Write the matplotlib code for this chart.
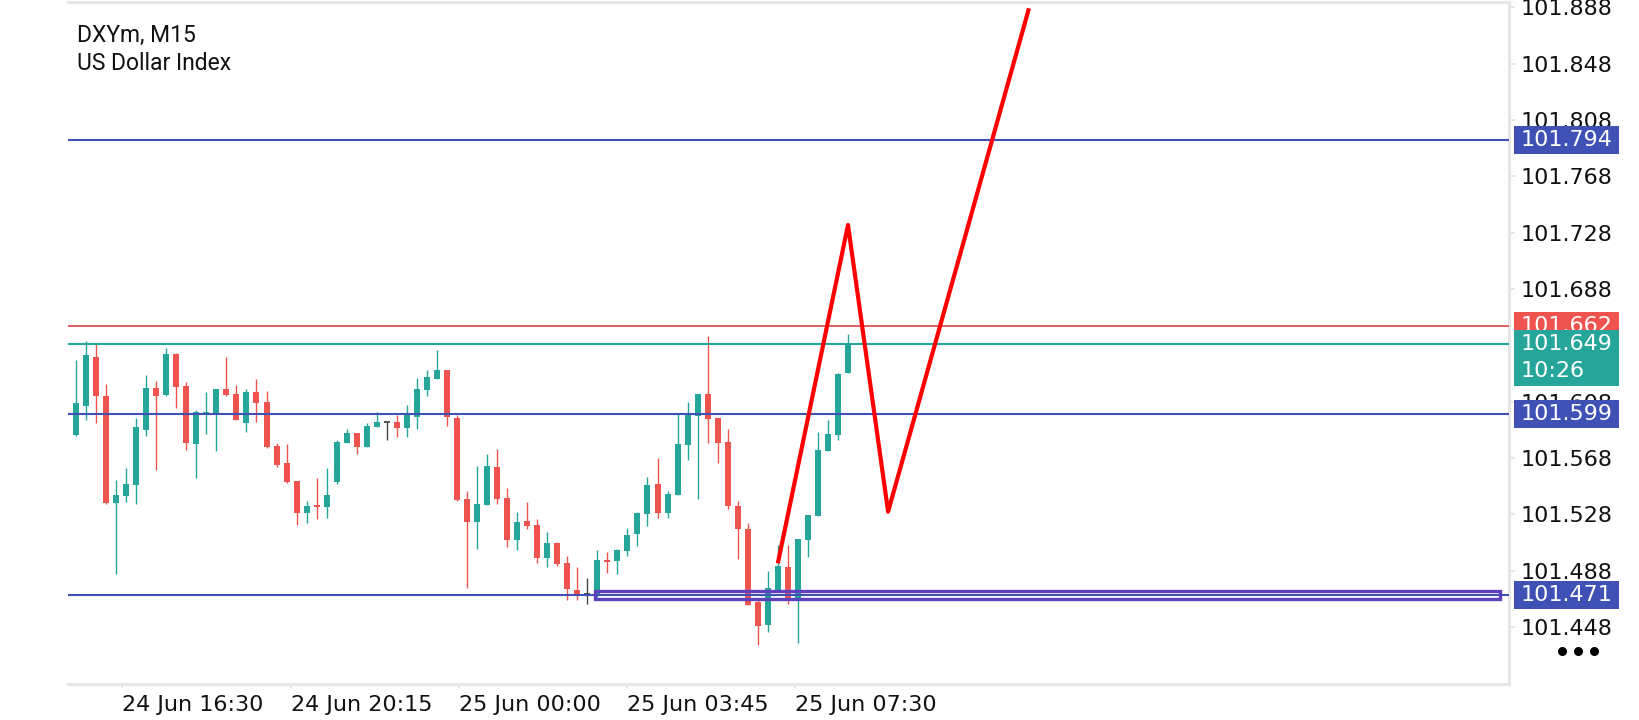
import matplotlib
matplotlib.use('Agg')
import matplotlib.pyplot as plt
from matplotlib.patches import Rectangle
from matplotlib.lines import Line2D
import matplotlib.transforms as mtransforms

# ---------------- data ----------------
opens = [101.5844, 101.6052, 101.6398, 101.6121, 101.5363, 101.5413, 101.5491, 101.5882, 101.6178, 101.6128,
         101.6419, 101.6192, 101.5782, 101.5995, 101.5995, 101.6170, 101.6135, 101.5931, 101.6149, 101.6078,
         101.5766, 101.5645, 101.5517, 101.5292, 101.5347, 101.5335, 101.5512, 101.5789, 101.5858, 101.5761,
         101.5903, 101.5934, 101.5936, 101.5896, 101.5974, 101.6166, 101.6244, 101.6305, 101.5964, 101.5392,
         101.5228, 101.5349, 101.5617, 101.5396, 101.5100, 101.5233, 101.5204, 101.4972, 101.5077, 101.4935,
         101.4743, 101.4717, 101.4717, 101.4956, 101.4951, 101.5022, 101.5143, 101.5285, 101.5496, 101.5292,
         101.5420, 101.5775, 101.5981, 101.6135, 101.5964, 101.5794, 101.5340, 101.5176, 101.4660, 101.4497,
         101.4733, 101.4906, 101.4681, 101.5100, 101.5271, 101.5733, 101.5846, 101.6286]
highs = [101.6376, 101.6511, 101.6495, 101.6206, 101.5524, 101.5609, 101.5962, 101.6270, 101.6227, 101.6462,
         101.6426, 101.6220, 101.6019, 101.6149, 101.6170, 101.6398, 101.6199, 101.6170, 101.6241, 101.6156,
         101.5787, 101.5780, 101.5517, 101.5375, 101.5538, 101.5609, 101.5808, 101.5886, 101.5858, 101.5929,
         101.6007, 101.5934, 101.5986, 101.6057, 101.6249, 101.6305, 101.6450, 101.6305, 101.5988, 101.5448,
         101.5624, 101.5709, 101.5744, 101.5467, 101.5297, 101.5368, 101.5247, 101.5155, 101.5084, 101.4984,
         101.4906, 101.4828, 101.5027, 101.5013, 101.5034, 101.5183, 101.5297, 101.5545, 101.5680, 101.5446,
         101.5995, 101.6078, 101.6135, 101.6547, 101.5964, 101.5886, 101.5375, 101.5219, 101.4672, 101.4878,
         101.5063, 101.5063, 101.5105, 101.5276, 101.5865, 101.5950, 101.6284, 101.6561]
lows = [101.5837, 101.5950, 101.5931, 101.5354, 101.4859, 101.5370, 101.5356, 101.5839, 101.5598, 101.6123,
        101.6038, 101.5740, 101.5541, 101.5853, 101.5733, 101.6123, 101.5953, 101.5867, 101.5938, 101.5749,
        101.5619, 101.5500, 101.5207, 101.5221, 101.5250, 101.5257, 101.5498, 101.5789, 101.5711, 101.5761,
        101.5903, 101.5811, 101.5832, 101.5832, 101.5889, 101.6123, 101.6244, 101.5910, 101.5375, 101.4760,
        101.5036, 101.5349, 101.5356, 101.5051, 101.5029, 101.5178, 101.4937, 101.4909, 101.4916, 101.4674,
        101.4674, 101.4646, 101.4696, 101.4866, 101.4859, 101.4987, 101.5058, 101.5200, 101.5257, 101.5257,
        101.5420, 101.5669, 101.5392, 101.5789, 101.5647, 101.5321, 101.4965, 101.4639, 101.4352, 101.4447,
        101.4733, 101.4646, 101.4364, 101.4980, 101.5271, 101.5733, 101.5811, 101.6286]
closes = [101.6071, 101.6412, 101.6123, 101.5358, 101.5418, 101.5496, 101.5901, 101.6178, 101.6123, 101.6419,
          101.6187, 101.5789, 101.6007, 101.6007, 101.6170, 101.6128, 101.5953, 101.6149, 101.6073, 101.5761,
          101.5633, 101.5512, 101.5292, 101.5340, 101.5335, 101.5418, 101.5794, 101.5858, 101.5761, 101.5908,
          101.5936, 101.5934, 101.5896, 101.5995, 101.6170, 101.6256, 101.6305, 101.5974, 101.5382, 101.5228,
          101.5354, 101.5624, 101.5392, 101.5100, 101.5226, 101.5200, 101.4972, 101.5077, 101.4930, 101.4752,
          101.4717, 101.4717, 101.4956, 101.4944, 101.5027, 101.5134, 101.5290, 101.5489, 101.5292, 101.5425,
          101.5780, 101.5995, 101.6135, 101.5960, 101.5789, 101.5342, 101.5178, 101.4639, 101.4490, 101.4757,
          101.4913, 101.4667, 101.5105, 101.5276, 101.5737, 101.5851, 101.6277, 101.6490]

time_labels = ["24 Jun 16:30", "24 Jun 20:15", "25 Jun 00:00", "25 Jun 03:45", "25 Jun 07:30"]
time_label_pos = [4.63, 21.42, 38.15, 54.95, 71.67]

price_ticks = [101.448, 101.488, 101.528, 101.568, 101.608, 101.648,
               101.688, 101.728, 101.768, 101.808, 101.848, 101.888]
price_ticks = [t for t in price_ticks if t != 101.648]

blue_levels = [101.794, 101.599, 101.471]
ask_price = 101.662
bid_price = 101.649
countdown = "10:26"

zigzag_x = [70.0, 77.0, 81.0, 95.05]
zigzag_y = [101.4932, 101.7335, 101.5299, 101.8874]

zone_x = [51.8, 142.0]
zone_y = [101.4680, 101.4732]

title_lines = ["DXYm, M15", "US Dollar Index"]

# ---------------- style ----------------
TEAL = '#26A69A'
RED = '#EF5350'
BLUE = '#3F51B5'
DOJI = '#444444'
GRID = '#E6E6E6'

W, H = 1640, 720
fig = plt.figure(figsize=(W / 100, H / 100), dpi=100)
ax_l, ax_r, ax_t, ax_b = 68, 1509, 2, 684
ax = fig.add_axes([ax_l / W, 1 - ax_b / H, (ax_r - ax_l) / W, (ax_b - ax_t) / H])

xmin, xmax = -0.80, 142.93
ymin, ymax = 101.4075, 101.8919
ax.set_xlim(xmin, xmax)
ax.set_ylim(ymin, ymax)
px_per_unit = (ax_b - ax_t) / (ymax - ymin)

# candles
body_w = 0.6
for i, (o, h, l, c) in enumerate(zip(opens, highs, lows, closes)):
    if c > o:
        col = TEAL
    elif c < o:
        col = RED
    else:
        col = DOJI
    ax.vlines(i, l, h, color=col, lw=1.0, zorder=2)
    if c != o:
        ax.bar(i, abs(c - o), bottom=min(o, c), width=body_w, color=col, lw=0, zorder=3)
    else:
        ax.hlines(o, i - body_w / 2, i + body_w / 2, color=col, lw=1.3, zorder=3)

# horizontal levels
for lv in blue_levels:
    ax.axhline(lv, color=BLUE, lw=1.5, zorder=4)
ax.axhline(ask_price, color='#E06060', lw=1.4, zorder=4)
ax.axhline(bid_price, color=TEAL, lw=1.5, zorder=4)

# zone rectangle
ax.add_patch(Rectangle((zone_x[0], zone_y[0]), zone_x[1] - zone_x[0], zone_y[1] - zone_y[0],
                       fill=False, edgecolor='#5E3FBE', lw=2.4, zorder=5))

# zigzag projection
ax.plot(zigzag_x, zigzag_y, color='#FF0000', lw=3.0, zorder=6, solid_capstyle='butt')

# spines
for s in ['top', 'right', 'bottom']:
    ax.spines[s].set_color(GRID)
    ax.spines[s].set_linewidth(2.2)
ax.spines['left'].set_visible(False)

# x axis
ax.set_xticks(time_label_pos)
ax.set_xticklabels(time_labels, ha='left')
ax.tick_params(axis='x', direction='out', length=3, width=1.4, color=GRID, pad=5,
               labelsize=16, labelcolor='#111111')
# y axis
ax.yaxis.tick_right()
ax.set_yticks(price_ticks)
ax.set_yticklabels([f"{t:.3f}" for t in price_ticks])
ax.tick_params(axis='y', direction='out', length=4, width=1.4, color=GRID, pad=4,
               labelsize=16, labelcolor='#111111')
for lab in ax.get_xticklabels() + ax.get_yticklabels():
    lab.set_fontfamily('DejaVu Sans')

# price label boxes on the right
blend = mtransforms.blended_transform_factory(fig.transFigure, ax.transData)
bx0, bx1 = 1514 / W, 1619 / W
tx = 1521 / W
half = 14 / px_per_unit


def price_box(price, color, lines, z):
    top = price + half
    bottom = price + half - 2 * half * len(lines)
    ax.add_patch(Rectangle((bx0, bottom), bx1 - bx0, top - bottom, transform=blend,
                           facecolor=color, edgecolor='none', clip_on=False, zorder=z))
    for k, txt in enumerate(lines):
        ax.text(tx, price - k * 2 * half * 0.96, txt, transform=blend, color='white',
                fontsize=16, family='DejaVu Sans', va='center', ha='left',
                clip_on=False, zorder=z + 0.5)


price_box(blue_levels[0], BLUE, [f"{blue_levels[0]:.3f}"], 10)
price_box(ask_price, RED, [f"{ask_price:.3f}"], 11)
price_box(bid_price, TEAL, [f"{bid_price:.3f}", countdown], 12)
price_box(blue_levels[1], BLUE, [f"{blue_levels[1]:.3f}"], 13)
price_box(blue_levels[2], BLUE, [f"{blue_levels[2]:.3f}"], 14)

# title
fig.text(77 / W, 1 - 41.7 / H, title_lines[0], family='Roboto', fontsize=16.5,
         color='#111111', va='baseline', ha='left')
fig.text(77 / W, 1 - 70 / H, title_lines[1], family='Roboto', fontsize=16.5,
         color='#111111', va='baseline', ha='left')

# menu dots
fig.add_artist(Line2D([1561.7 / W, 1577.7 / W, 1593.7 / W], [1 - 651 / H] * 3,
                      transform=fig.transFigure, marker='o', ls='none', color='black', ms=5.5))

fig.savefig('out.png', dpi=100)
